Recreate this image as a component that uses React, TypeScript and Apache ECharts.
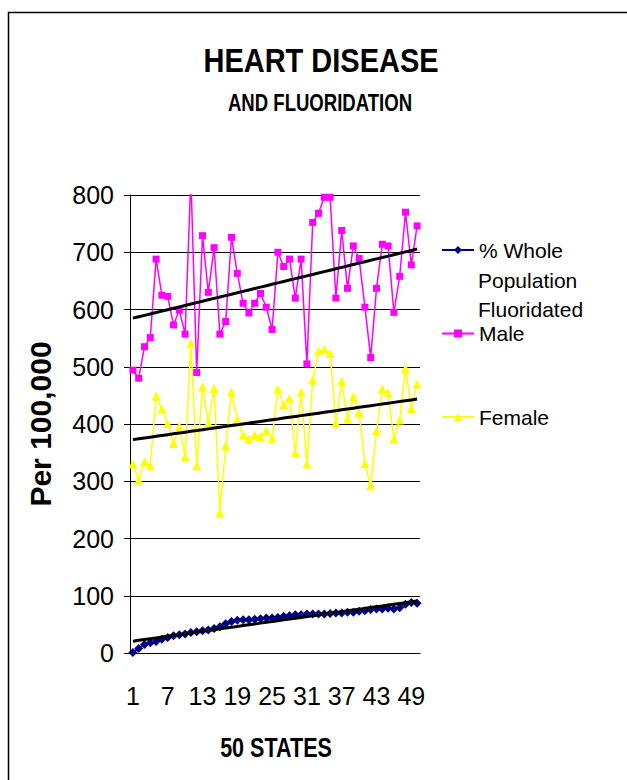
import React, { useEffect, useRef } from "react";
import * as echarts from "echarts";

const states = [
  "1","2","3","4","5","6","7","8","9","10",
  "11","12","13","14","15","16","17","18","19","20",
  "21","22","23","24","25","26","27","28","29","30",
  "31","32","33","34","35","36","37","38","39","40",
  "41","42","43","44","45","46","47","48","49","50",
];

const fluoridated = [
  1, 8, 15, 18, 20, 24, 27, 30, 32, 33,
  36, 37, 39, 40, 43, 46, 51, 55, 57, 58,
  58, 59, 60, 61, 61, 62, 64, 65, 67, 67,
  68, 68, 68, 68, 69, 70, 70, 71, 71, 73,
  74, 76, 77, 77, 78, 77, 79, 85, 88, 87,
];

const male = [
  494, 480, 535, 551, 688, 625, 623, 573, 599, 557,
  830, 490, 729, 630, 708, 557, 579, 726, 663, 611,
  594, 611, 628, 604, 565, 700, 675, 688, 620, 688,
  505, 752, 768, 796, 796, 620, 738, 637, 711, 689,
  604, 516, 637, 714, 711, 595, 658, 770, 678, 746,
];

const female = [
  330, 302, 334, 327, 449, 426, 401, 366, 396, 343,
  541, 327, 465, 402, 462, 245, 362, 456, 408, 381,
  374, 381, 378, 388, 375, 461, 433, 445, 350, 456,
  330, 477, 527, 530, 523, 402, 475, 409, 448, 420,
  331, 292, 388, 461, 454, 374, 407, 497, 427, 470,
];

const yTicks = { min: 0, max: 800, interval: 100 };
const xLabelStep = 6;

const FLUOR_NAME = "% Whole Population Fluoridated";
const MALE_NAME = "Male";
const FEMALE_NAME = "Female";

const FONT = "'Liberation Sans', Arial, sans-serif";

// least-squares linear trend (like Excel's linear trendline)
function linearTrend(values: number[]): number[] {
  const n = values.length;
  let sx = 0, sy = 0, sxx = 0, sxy = 0;
  values.forEach((v, i) => {
    const x = i + 1;
    sx += x; sy += v; sxx += x * x; sxy += x * v;
  });
  const slope = (n * sxy - sx * sy) / (n * sxx - sx * sx);
  const intercept = (sy - slope * sx) / n;
  return values.map((_, i) => +(intercept + slope * (i + 1)).toFixed(2));
}

export default function App() {
  const ref = useRef<HTMLDivElement>(null);

  useEffect(() => {
    if (!ref.current) return;
    const chart = echarts.init(ref.current, null, { renderer: "svg" });

    const trendStyle = {
      type: "line" as const,
      symbol: "none",
      silent: true,
      lineStyle: { color: "#000", width: 3 },
      z: 5,
    };

    const dataSeriesBase = {
      type: "line" as const,
      showAllSymbol: true,
      z: 3,
    };

    chart.setOption({
      animation: false,
      backgroundColor: "#fff",
      legend: {
        orient: "vertical",
        left: 441,
        top: 239,
        padding: 0,
        itemWidth: 32,
        itemHeight: 10,
        itemGap: 61.5,
        data: [FLUOR_NAME, MALE_NAME, FEMALE_NAME],
        formatter: (name: string) => (name === FLUOR_NAME ? "% Whole" : name),
        textStyle: { fontFamily: FONT, fontSize: 21, lineHeight: 22, color: "#000" },
      },
      grid: { left: 130, right: 207, top: 195, bottom: 127, containLabel: false },
      xAxis: {
        type: "category",
        data: states,
        boundaryGap: true,
        axisLine: { lineStyle: { color: "#000", width: 1 } },
        axisTick: { interval: 0, length: 9, lineStyle: { color: "#555" } },
        axisLabel: {
          interval: (index: number) => index % xLabelStep === 0,
          hideOverlap: false,
          showMinLabel: true,
          fontFamily: FONT,
          fontSize: 25,
          color: "#000",
          margin: 30,
        },
      },
      yAxis: {
        type: "value",
        min: yTicks.min,
        max: yTicks.max,
        interval: yTicks.interval,
        axisLine: { show: true, lineStyle: { color: "#000" } },
        axisTick: { show: true, length: 6, lineStyle: { color: "#000" } },
        splitLine: { lineStyle: { color: "#000", width: 1 } },
        axisLabel: { fontFamily: FONT, fontSize: 25, color: "#000", margin: 16 },
        name: "Per 100,000",
        nameLocation: "middle",
        nameRotate: 90,
        nameGap: 75,
        nameTextStyle: { fontFamily: FONT, fontWeight: "bold", fontSize: 30, color: "#000" },
      },
      graphic: [
        {
          type: "rect",
          shape: { x: 8.5, y: 12.5, width: 700, height: 900 },
          style: { fill: "none", stroke: "#000", lineWidth: 1.5 },
          silent: true,
        },
        {
          type: "text",
          x: 321,
          y: 60,
          scaleX: 0.853,
          style: {
            text: "HEART DISEASE",
            fontFamily: FONT,
            fontWeight: "bold",
            fontSize: 34,
            fill: "#000",
            align: "center",
            verticalAlign: "middle",
          },
        },
        {
          type: "text",
          x: 320,
          y: 103,
          scaleX: 0.79,
          style: {
            text: "AND FLUORIDATION",
            fontFamily: FONT,
            fontWeight: "bold",
            fontSize: 23.5,
            fill: "#000",
            align: "center",
            verticalAlign: "middle",
          },
        },
        {
          type: "text",
          x: 276,
          y: 747,
          scaleX: 0.77,
          style: {
            text: "50 STATES",
            fontFamily: FONT,
            fontWeight: "bold",
            fontSize: 28,
            fill: "#000",
            align: "center",
            verticalAlign: "middle",
          },
        },
        {
          type: "text",
          x: 478,
          y: 280,
          style: { text: "Population", fontFamily: FONT, fontSize: 21, fill: "#000", verticalAlign: "middle" },
        },
        {
          type: "text",
          x: 478,
          y: 309,
          style: { text: "Fluoridated", fontFamily: FONT, fontSize: 21, fill: "#000", verticalAlign: "middle" },
        },
      ],
      series: [
        {
          ...dataSeriesBase,
          name: FLUOR_NAME,
          data: fluoridated,
          symbol: "diamond",
          symbolSize: 9,
          itemStyle: { color: "#000080" },
          lineStyle: { color: "#000080", width: 1.5 },
        },
        {
          ...dataSeriesBase,
          name: MALE_NAME,
          data: male,
          symbol: "rect",
          symbolSize: 7,
          itemStyle: { color: "#FF00FF" },
          lineStyle: { color: "#FF00FF", width: 1.5 },
        },
        {
          ...dataSeriesBase,
          name: FEMALE_NAME,
          data: female,
          symbol: "triangle",
          symbolSize: 9,
          itemStyle: { color: "#FFFF00" },
          lineStyle: { color: "#FFFF00", width: 1.5 },
        },
        { ...trendStyle, name: "Fluoridated trend", data: linearTrend(fluoridated) },
        { ...trendStyle, name: "Male trend", data: linearTrend(male) },
        { ...trendStyle, name: "Female trend", data: linearTrend(female) },
      ],
    });

    return () => chart.dispose();
  }, []);

  return (
    <div
      ref={ref}
      style={{ position: "absolute", left: 0, top: 0, width: 627, height: 780 }}
    />
  );
}
